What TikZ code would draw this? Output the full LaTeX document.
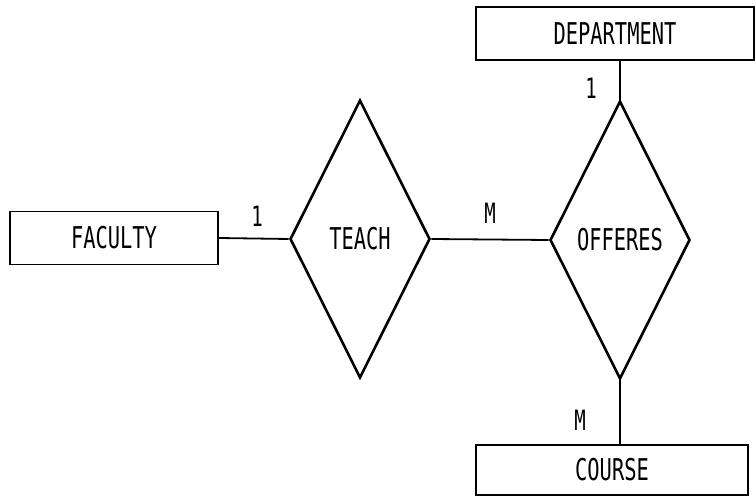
\documentclass[tikz,border=0pt]{standalone}
\usepackage{fontspec}
\newfontfamily\dotfont[FakeStretch=0.68]{DejaVu Sans Mono}
\usetikzlibrary{shapes.geometric}
\begin{document}
\begin{tikzpicture}[x=1pt,y=-1pt,
  ent/.style={draw, line width=1.6pt, rectangle, inner sep=0pt, font=\dotfont\fontsize{30}{30}\selectfont},
  rel/.style={draw, line width=2.6pt, diamond, aspect=0.5, inner sep=0pt, minimum width=140pt, minimum height=278pt, font=\dotfont\fontsize{30}{30}\selectfont},
  conn/.style={line width=1.8pt},
  card/.style={font=\dotfont\fontsize{28}{28}\selectfont, inner sep=0pt}]
\useasboundingbox (0,0) rectangle (756,497);
\node[ent, minimum width=208pt, minimum height=53pt] (faculty) at (114,238) {FACULTY};
\node[rel] (teach) at (360,239) {TEACH};
\node[rel] (offeres) at (620,240) {OFFERES};
\node[ent, minimum width=278pt, minimum height=53pt] (dept) at (615,33.5) {DEPARTMENT};
\node[ent, minimum width=272pt, minimum height=50pt] (course) at (612,470) {COURSE};
\draw[conn] (faculty.east) -- (teach.west);
\draw[conn] (teach.east) -- (offeres.west);
\draw[conn] (offeres.north |- dept.south) -- (offeres.north);
\draw[conn] (offeres.south) -- (offeres.south |- course.north);
\node[card] (c1) at (257,216) {1};
\node[card] (c2) at (490,213) {M};
\node[card] (c3) at (591,88) {1};
\node[card] (c4) at (580,420) {M};
\end{tikzpicture}
\end{document}
